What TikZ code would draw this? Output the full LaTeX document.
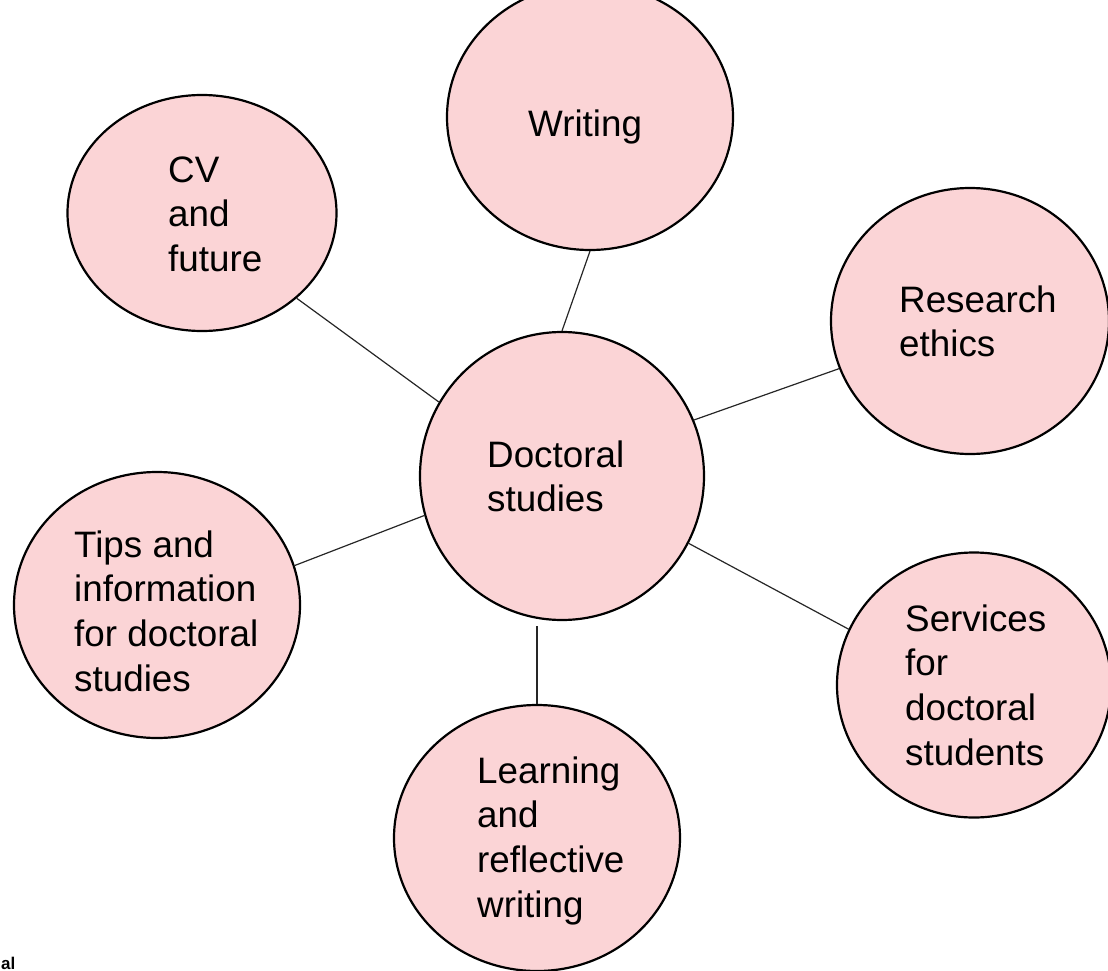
\documentclass[tikz,border=0pt]{standalone}
\usepackage{fontspec}
\setmainfont{Liberation Sans}
\usetikzlibrary{shapes.geometric}
\definecolor{bubblefill}{RGB}{251,212,214}
\tikzset{
  bubble/.style={ellipse, draw=black, line width=2.2pt, fill=bubblefill, inner sep=0pt},
  label/.style={anchor=base west, align=left, inner sep=0pt, font=\fontsize{36.8}{44.7}\selectfont},
  link/.style={draw=black!85, line width=1.2pt}
}
\begin{document}
\begin{tikzpicture}[x=1pt,y=-1pt]
\useasboundingbox (0,0) rectangle (1108,971);
% bubbles
\node[bubble, minimum width=284pt, minimum height=288pt] (c) at (562,476) {};
\node[bubble, minimum width=286pt, minimum height=266pt] (w) at (590,117) {};
\node[bubble, minimum width=269pt, minimum height=236pt] (cv) at (202,213) {};
\node[bubble, minimum width=278pt, minimum height=266pt] (r) at (970,321) {};
\node[bubble, minimum width=286pt, minimum height=266pt] (t) at (157,605) {};
\node[bubble, minimum width=274pt, minimum height=265pt] (s) at (974,685) {};
\node[bubble, minimum width=286pt, minimum height=266pt] (l) at (537,838) {};
% connectors
\draw[link] (c.90) -- (w.270);
\draw[link] (c.149.4) -- (cv.318.5);
\draw[link] (c.23.2) -- (r.200.5);
\draw[link] (c.196.5) -- (t.16.2);
\draw[link] (c.332.9) -- (s.156.6);
\draw[link] ([xshift=-25pt]c.south) ++(0,-5pt) coordinate (lstart);
\draw[link] (lstart) -- (l.90);
% texts (anchored at the baseline of the last line)
\node[label] (tc) at (487,511.7) {Doctoral\\studies};
\node[label] (tw) at (528,137) {Writing};
\node[label] (tcv) at (168,271.4) {CV\\and\\future};
\node[label] (tr) at (899,356.7) {Research\\ethics};
\node[label] (tt) at (74,691.1) {Tips and\\information\\for doctoral\\studies};
\node[label] (ts) at (905,765.1) {Services\\for\\doctoral\\students};
\node[label] (tl) at (477,917.1) {Learning\\and\\reflective\\writing};
\node[anchor=base west, inner sep=0pt, font=\bfseries\fontsize{17}{20}\selectfont] (frag) at (1,969) {al};
\end{tikzpicture}
\end{document}
